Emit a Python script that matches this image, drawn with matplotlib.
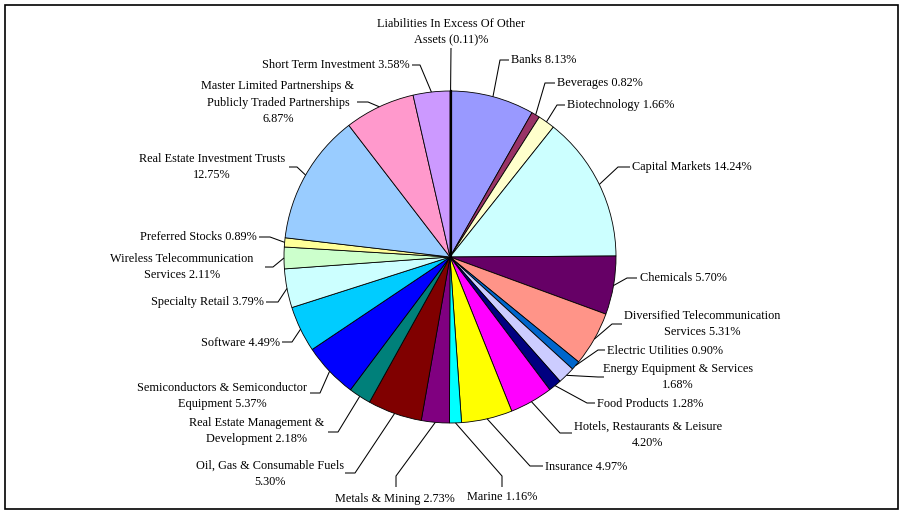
import matplotlib

matplotlib.use("Agg")
import matplotlib.pyplot as plt
import numpy as np
from matplotlib.patches import Rectangle

# -- Data -------------------------------------------------------------------
names = [
    "Liabilities In Excess Of Other\nAssets",
    "Banks",
    "Beverages",
    "Biotechnology",
    "Capital Markets",
    "Chemicals",
    "Diversified Telecommunication\nServices",
    "Electric Utilities",
    "Energy Equipment & Services\n",
    "Food Products",
    "Hotels, Restaurants & Leisure\n",
    "Insurance",
    "Marine",
    "Metals & Mining",
    "Oil, Gas & Consumable Fuels\n",
    "Real Estate Management &\nDevelopment",
    "Semiconductors & Semiconductor\nEquipment",
    "Software",
    "Specialty Retail",
    "Wireless Telecommunication\nServices",
    "Preferred Stocks",
    "Real Estate Investment Trusts\n",
    "Master Limited Partnerships &\nPublicly Traded Partnerships\n",
    "Short Term Investment",
]
values = [-0.11, 8.13, 0.82, 1.66, 14.24, 5.70, 5.31, 0.90, 1.68, 1.28, 4.20,
          4.97, 1.16, 2.73, 5.30, 2.18, 5.37, 4.49, 3.79, 2.11, 0.89, 12.75,
          6.87, 3.58]
colors = ["#000000", "#9999FF", "#993366", "#FFFFCC", "#CCFFFF", "#660066",
          "#FF9488", "#0066CC", "#CCCCFF", "#000080", "#FF00FF", "#FFFF00",
          "#00FFFF", "#800080", "#800000", "#00807A", "#0000FF", "#00CCFF",
          "#CCFFFF", "#CCFFCC", "#FFFF99", "#99CCFF", "#FF99CC", "#CC99FF"]

# label layout in pixel coords: text anchor (x, y, ha), leader elbow, leader end
label_pos = [
    (451, 32, "center", (451, 48), (451, 48)),
    (511, 60, "left", (500, 60), (509, 60)),
    (557, 83, "left", (545, 83), (555, 83)),
    (567, 105, "left", (557, 105), (565, 105)),
    (632, 167, "left", (618, 167), (630, 167)),
    (640, 278, "left", (627, 278), (637, 278)),
    (702, 324, "center", (612, 324), (622, 324)),
    (607, 351, "left", (598, 350), (605, 350)),
    (678, 377, "center", (598, 377), (604, 377)),
    (597, 404, "left", (587, 403), (595, 403)),
    (648, 435, "center", (560, 433), (572, 433)),
    (545, 467, "left", (530, 466), (543, 466)),
    (502, 497, "center", (502, 476), (502, 487)),
    (395, 499, "center", (396, 476), (396, 487)),
    (270, 474, "center", (355, 473), (345, 473)),
    (257, 431, "center", (338, 432), (328, 432)),
    (222, 396, "center", (320, 393), (310, 393)),
    (280, 343, "right", (292, 342), (282, 342)),
    (264, 302, "right", (278, 302), (266, 302)),
    (182, 267, "center", (273, 267), (265, 267)),
    (257, 237, "right", (270, 237), (259, 237)),
    (212, 167, "center", (297, 167), (289, 167)),
    (278, 103, "center", (368, 102), (357, 102)),
    (410, 65, "right", (420, 65), (412, 65)),
]

W, H = 904, 514
cx, cy, R = 450, 257, 166

plt.rcParams["font.family"] = ["Liberation Serif", "DejaVu Serif"]

fig = plt.figure(figsize=(W / 100, H / 100), dpi=100)
ax = fig.add_axes([0, 0, 1, 1])

sizes = np.abs(values)
# y axis is inverted below, so counterclock in data == clockwise on screen
wedges, _ = ax.pie(sizes, colors=colors, startangle=-90, counterclock=True,
                   center=(cx, cy), radius=R, frame=True,
                   wedgeprops=dict(edgecolor="black", linewidth=0.6))
ax.set_xlim(0, W)
ax.set_ylim(H, 0)
ax.set_aspect("auto")
ax.axis("off")

total = sizes.sum()
cum = np.cumsum(sizes) - sizes / 2
for name, v, c, pos in zip(names, values, cum, label_pos):
    tx, ty, ha, elbow, end = pos
    pct = f"({abs(v):.2f})%" if v < 0 else f"{v:.2f}%"
    txt = name + pct if name.endswith("\n") else f"{name} {pct}"
    ax.text(tx, ty, txt, ha=ha, va="center", fontsize=8.8,
            linespacing=1.5, multialignment="center")
    th = np.deg2rad(-90 + c / total * 360)
    sx, sy = cx + R * np.cos(th), cy + R * np.sin(th)
    ax.plot([sx, elbow[0], end[0]], [sy, elbow[1], end[1]],
            color="black", lw=0.75, solid_capstyle="butt")

# thick line for the tiny negative slice at 12 o'clock
ax.plot([cx + 1, cx + 1], [cy, cy - R], color="black", lw=1.6)

ax.add_patch(Rectangle((5, 5), W - 11, H - 10, fill=False,
                       edgecolor="black", lw=1.2, clip_on=False))

fig.savefig("out.png", dpi=100)
